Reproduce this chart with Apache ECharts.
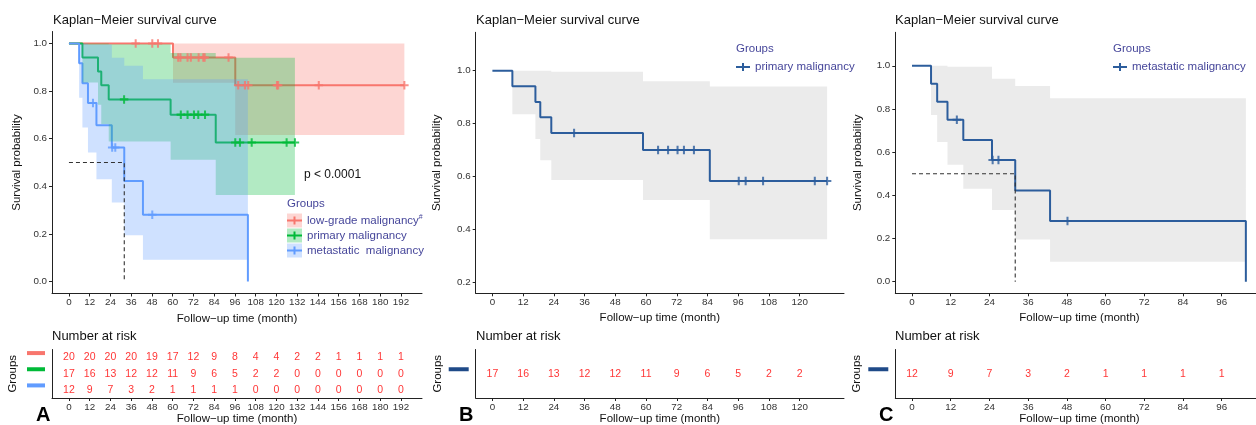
<!DOCTYPE html>
<html><head><meta charset="utf-8">
<script src="https://cdn.jsdelivr.net/npm/echarts@6/dist/echarts.min.js"></script>
<style>html,body{margin:0;padding:0;background:#fff}#c{width:1256px;height:425px}</style>
</head><body><div id="c"></div>
<script>
// ---------------- DATA ----------------
// low-grade malignancy (panel A, red)
const lowTime = [0, 60.2, 96.2, 194];
const lowSurv = [1.0, 0.941, 0.824, 0.824];
const lowCensorT = [38.6, 48.2, 51.5, 63.2, 64.5, 68.6, 70.5, 75.0, 77.7, 78.5, 92.3, 97.9, 101.8, 103.7, 120.3, 121.0, 144.5, 194];
const lowCensorS = [1, 1, 1, 0.941, 0.941, 0.941, 0.941, 0.941, 0.941, 0.941, 0.941, 0.824, 0.824, 0.824, 0.824, 0.824, 0.824, 0.824];
const lowBandT = [60.2, 96.2, 194];
const lowBandLow = [0.835, 0.615];
const lowBandHigh = [1.0, 1.0];

// primary malignancy (panel A green, panel B)
const primTime = [0, 7.8, 16.8, 18.7, 23.0, 58.8, 84.9, 130.7];
const primSurv = [1.0, 0.941, 0.882, 0.824, 0.765, 0.701, 0.584, 0.584];
const primCensorT = [31.9, 64.7, 68.6, 72.3, 74.8, 78.7, 96.2, 98.9, 105.7, 125.9, 130.7];
const primCensorS = [0.765, 0.701, 0.701, 0.701, 0.701, 0.701, 0.584, 0.584, 0.584, 0.584, 0.584];
const primBandT = [7.8, 16.8, 18.7, 23.0, 58.8, 84.9, 130.7];
const primBandLow = [0.836, 0.742, 0.662, 0.588, 0.512, 0.364];
const primBandHigh = [1.0, 1.0, 1.0, 0.996, 0.960, 0.940];

// metastatic malignancy (panel A blue, panel C)
const metaTime = [0, 5.9, 7.8, 11.0, 15.9, 24.8, 32.0, 42.8, 103.5];
const metaSurv = [1.0, 0.917, 0.833, 0.750, 0.656, 0.563, 0.422, 0.281, 0.0];
const metaCensorT = [13.9, 25.0, 26.8, 48.2];
const metaCensorS = [0.750, 0.563, 0.563, 0.281];
const metaBandT = [5.9, 7.8, 11.0, 15.9, 24.8, 32.0, 42.8, 103.5];
const metaBandLow = [0.772, 0.647, 0.542, 0.430, 0.332, 0.195, 0.092];
const metaBandHigh = [1.0, 1.0, 0.995, 0.995, 0.940, 0.906, 0.849];

// median survival guide (dashed)
const medianX = [0, 32.0, 32.0];
const medianY = [0.5, 0.5, 0.0];

// tick labels
const ticksA = [0, 12, 24, 36, 48, 60, 72, 84, 96, 108, 120, 132, 144, 156, 168, 180, 192];
const ticksB = [0, 12, 24, 36, 48, 60, 72, 84, 96, 108, 120];
const ticksC = [0, 12, 24, 36, 48, 60, 72, 84, 96];
const yTicksA = [0, 0.2, 0.4, 0.6, 0.8, 1.0];
const yTicksB = [0.2, 0.4, 0.6, 0.8, 1.0];
const yTicksC = [0, 0.2, 0.4, 0.6, 0.8, 1.0];

// numbers at risk
const riskLow = [20, 20, 20, 20, 19, 17, 12, 9, 8, 4, 4, 2, 2, 1, 1, 1, 1];
const riskPrim = [17, 16, 13, 12, 12, 11, 9, 6, 5, 2, 2, 0, 0, 0, 0, 0, 0];
const riskMeta = [12, 9, 7, 3, 2, 1, 1, 1, 1, 0, 0, 0, 0, 0, 0, 0, 0];
const riskB = [17, 16, 13, 12, 12, 11, 9, 6, 5, 2, 2];
const riskC = [12, 9, 7, 3, 2, 1, 1, 1, 1];

// ---------------- STYLE ----------------
const FONT = '"Liberation Sans", Arial, Helvetica, sans-serif';
const RED = '#F8766D', GREEN = '#00BA38', BLUE = '#619CFF';
const NAVY = '#2C5D9C', NAVYKEY = '#1F4A88';
const LEG = '#46469A';
const AX = '#222';
const TICK = '#333';
const PLUS = 'path://M3.8,0H6.2V3.8H10V6.2H6.2V10H3.8V6.2H0V3.8H3.8Z';
const ICON_A = 'path://M0,0L0,0ZM15,14L15,14ZM0,6H15V8H0ZM6.5,3H8.5V11H6.5Z';
const ICON_B = 'path://M0,0L0,0ZM14,10L14,10ZM0,4H14V6H0ZM6,1H8V9H6Z';

const chart = echarts.init(document.getElementById('c'), null, {renderer: 'canvas'});

function grid(left, top, width, height) {
  return {left, top, width, height, containLabel: false, outerBoundsMode: 'none'};
}
function xAx(gi, min, max, ticks) {
  return {
    type: 'value', gridIndex: gi, min, max,
    name: 'Follow\u2212up time (month)', nameLocation: 'middle', nameGap: 15,
    nameTextStyle: {fontSize: 11.5, color: '#111', fontFamily: FONT},
    axisLine: {show: true, onZero: false, lineStyle: {color: AX, width: 1}},
    axisTick: {show: true, length: 3, customValues: ticks, lineStyle: {color: AX, width: 1}},
    axisLabel: {customValues: ticks, margin: 4, fontSize: 9.8, color: TICK, fontFamily: FONT},
    splitLine: {show: false}
  };
}
function yAx(gi, min, max, ticks, gap) {
  return {
    type: 'value', gridIndex: gi, min, max,
    name: 'Survival probability', nameLocation: 'middle', nameGap: gap, nameRotate: 90,
    nameTextStyle: {fontSize: 11.5, color: '#111', fontFamily: FONT},
    axisLine: {show: true, onZero: false, lineStyle: {color: AX, width: 1}},
    axisTick: {show: true, length: 3, customValues: ticks, lineStyle: {color: AX, width: 1}},
    axisLabel: {customValues: ticks, margin: 5, fontSize: 9.8, color: TICK, fontFamily: FONT,
      formatter: v => Number(v).toFixed(1)},
    splitLine: {show: false}
  };
}
function yRisk(gi, cats, colors, gap, barW) {
  const rich = {};
  colors.forEach((c, i) => { rich['k' + i] = {width: barW, height: 4, backgroundColor: c}; });
  return {
    type: 'category', gridIndex: gi, data: cats, boundaryGap: true,
    name: 'Groups', nameLocation: 'middle', nameGap: gap, nameRotate: 90,
    nameTextStyle: {fontSize: 11.5, color: '#111', fontFamily: FONT},
    axisLine: {show: true, onZero: false, lineStyle: {color: AX, width: 1}},
    axisTick: {show: false},
    axisLabel: {margin: 7, formatter: (v, i) => '{k' + i + '|}', rich, padding: [0, 0, 9, 0]},
    splitLine: {show: false}
  };
}
function step(name, gi, T, S, color, width, z) {
  return {type: 'line', name, xAxisIndex: gi, yAxisIndex: gi, step: 'end', symbol: 'none',
    data: T.map((t, i) => [t, S[i]]), lineStyle: {color, width}, itemStyle: {color}, z, silent: true};
}
function censor(gi, T, S, color, size, z) {
  return {type: 'scatter', xAxisIndex: gi, yAxisIndex: gi, symbol: PLUS, symbolSize: size,
    data: T.map((t, i) => [t, S[i]]), itemStyle: {color}, z, silent: true};
}
function band(gi, T, lo, hi, color, z) {
  return {
    type: 'custom', xAxisIndex: gi, yAxisIndex: gi, z, silent: true,
    data: [[T[0], lo[0]]],
    renderItem: (params, api) => {
      const pts = [];
      for (let i = 0; i < lo.length; i++) { pts.push(api.coord([T[i], hi[i]])); pts.push(api.coord([T[i + 1], hi[i]])); }
      for (let i = lo.length - 1; i >= 0; i--) { pts.push(api.coord([T[i + 1], lo[i]])); pts.push(api.coord([T[i], lo[i]])); }
      return {type: 'polygon', shape: {points: pts}, style: {fill: color}};
    }
  };
}
function median(gi, z) {
  return {type: 'line', xAxisIndex: gi, yAxisIndex: gi, symbol: 'none', silent: true, z,
    data: medianX.map((x, i) => [x, medianY[i]]),
    lineStyle: {color: '#333', width: 1.1, type: [4, 3]}};
}
function risk(gi, ticks, vals, row) {
  return {type: 'scatter', xAxisIndex: gi, yAxisIndex: gi, symbolSize: 1, silent: true,
    itemStyle: {color: 'rgba(0,0,0,0)'},
    data: ticks.map((t, i) => [t, row, vals[i]]),
    label: {show: true, position: 'inside', formatter: p => String(p.data[2]),
      color: '#FF0000', fontSize: 10.5, fontFamily: FONT}};
}
function title(text, left, top, size, color, bold) {
  return {text, left, top, padding: 0,
    textStyle: {fontSize: size, color, fontWeight: bold ? 'bold' : 'normal', fontFamily: FONT}};
}
const stripPrefix = n => n.replace(/^[ABC]:/, '');

const option = {
  animation: false,
  textStyle: {fontFamily: FONT},
  title: [
    title('Kaplan\u2212Meier survival curve', 53, 14, 13, '#111'),
    title('Kaplan\u2212Meier survival curve', 476, 14, 13, '#111'),
    title('Kaplan\u2212Meier survival curve', 895, 14, 13, '#111'),
    title('Number at risk', 52, 330, 13, '#111'),
    title('Number at risk', 476, 330, 13, '#111'),
    title('Number at risk', 895, 330, 13, '#111'),
    title('Groups', 287, 198, 11.5, LEG),
    title('Groups', 736, 43, 11.5, LEG),
    title('Groups', 1113, 43, 11.5, LEG),
    title('p < 0.0001', 304, 169, 12, '#111'),
    title('A', 36, 405, 20, '#000', true),
    title('B', 459, 405, 20, '#000', true),
    title('C', 879, 405, 20, '#000', true)
  ],
  legend: [
    {orient: 'vertical', left: 287, top: 213.5, padding: 0, itemGap: 1, itemWidth: 15, itemHeight: 14,
      selectedMode: false, formatter: n => stripPrefix(n) + (n === 'A:low-grade malignancy' ? '{s|#}' : ''),
      textStyle: {fontSize: 11.5, color: LEG, fontFamily: FONT,
        rich: {s: {fontSize: 7, color: LEG, verticalAlign: 'top', padding: [0, 0, 6, 0]}}},
      data: [
        {name: 'A:low-grade malignancy', icon: 'rect', itemStyle: {color: 'rgba(248,118,109,0.3)'}},
        {name: 'A:primary malignancy', icon: 'rect', itemStyle: {color: 'rgba(0,186,56,0.3)'}},
        {name: 'A:metastatic  malignancy', icon: 'rect', itemStyle: {color: 'rgba(97,156,255,0.3)'}}
      ]},
    {orient: 'vertical', left: 287, top: 213.5, padding: 0, itemGap: 1, itemWidth: 15, itemHeight: 14, z: 5,
      selectedMode: false, formatter: n => stripPrefix(n),
      textStyle: {fontSize: 11.5, color: 'rgba(0,0,0,0)', fontFamily: FONT},
      data: [
        {name: 'A:low-grade malignancy', icon: ICON_A, itemStyle: {color: RED}},
        {name: 'A:primary malignancy', icon: ICON_A, itemStyle: {color: GREEN}},
        {name: 'A:metastatic  malignancy', icon: ICON_A, itemStyle: {color: BLUE}}
      ]},
    {left: 736, top: 61, padding: 0, itemWidth: 14, itemHeight: 10, selectedMode: false,
      formatter: n => stripPrefix(n), textStyle: {fontSize: 11.5, color: LEG, fontFamily: FONT},
      data: [{name: 'B:primary malignancy', icon: ICON_B, itemStyle: {color: NAVY}}]},
    {left: 1113, top: 61, padding: 0, itemWidth: 14, itemHeight: 10, selectedMode: false,
      formatter: n => stripPrefix(n), textStyle: {fontSize: 11.5, color: LEG, fontFamily: FONT},
      data: [{name: 'C:metastatic malignancy', icon: ICON_B, itemStyle: {color: NAVY}}]}
  ],
  grid: [
    grid(52, 31.5, 370, 262),
    grid(475.7, 32.3, 368.3, 261),
    grid(895.3, 32.3, 368.3, 261),
    grid(52, 349.5, 370, 48.5),
    grid(475.7, 349.5, 368.3, 48.5),
    grid(895.3, 349.5, 368.3, 48.5)
  ],
  xAxis: [
    xAx(0, -9.8, 204.2, ticksA),
    xAx(1, -6.52, 137.3, ticksB),
    xAx(2, -5.18, 109.0, ticksC),
    xAx(3, -9.8, 204.2, ticksA),
    xAx(4, -6.52, 137.3, ticksB),
    xAx(5, -5.18, 109.0, ticksC)
  ],
  yAxis: [
    yAx(0, -0.05, 1.05, yTicksA, 29.3),
    yAx(1, 0.16, 1.145, yTicksB, 33),
    yAx(2, -0.054, 1.155, yTicksC, 31.6),
    yRisk(3, ['metastatic', 'primary', 'low-grade'], [BLUE, GREEN, RED], 33, 18),
    yRisk(4, ['primary'], [NAVYKEY], 31.7, 20),
    yRisk(5, ['metastatic'], [NAVYKEY], 32, 20)
  ],
  series: [
    // Panel A
    step('A:low-grade malignancy', 0, lowTime, lowSurv, RED, 2, 2),
    step('A:primary malignancy', 0, primTime, primSurv, GREEN, 2, 2),
    step('A:metastatic  malignancy', 0, metaTime, metaSurv, BLUE, 2, 2),
    band(0, lowBandT, lowBandLow, lowBandHigh, 'rgba(248,118,109,0.3)', 3),
    band(0, primBandT, primBandLow, primBandHigh, 'rgba(0,186,56,0.3)', 3),
    band(0, metaBandT, metaBandLow, metaBandHigh, 'rgba(97,156,255,0.3)', 3),
    censor(0, lowCensorT, lowCensorS, RED, 8.5, 4),
    censor(0, primCensorT, primCensorS, GREEN, 8.5, 4),
    censor(0, metaCensorT, metaCensorS, BLUE, 8.5, 4),
    median(0, 5),
    // Panel B
    band(1, primBandT, primBandLow, primBandHigh, '#EBEBEB', 1),
    step('B:primary malignancy', 1, primTime, primSurv, NAVY, 2, 2),
    censor(1, primCensorT, primCensorS, NAVY, 8.5, 3),
    // Panel C
    band(2, metaBandT, metaBandLow, metaBandHigh, '#EBEBEB', 1),
    step('C:metastatic malignancy', 2, metaTime, metaSurv, NAVY, 2, 2),
    censor(2, metaCensorT, metaCensorS, NAVY, 8.5, 3),
    median(2, 4),
    // Risk tables
    risk(3, ticksA, riskLow, 2),
    risk(3, ticksA, riskPrim, 1),
    risk(3, ticksA, riskMeta, 0),
    risk(4, ticksB, riskB, 0),
    risk(5, ticksC, riskC, 0)
  ]
};
chart.setOption(option);
</script></body></html>
